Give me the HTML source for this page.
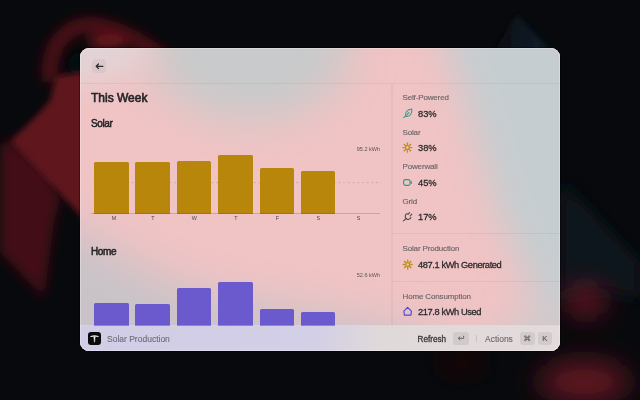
<!DOCTYPE html>
<html><head><meta charset="utf-8">
<style>
*{margin:0;padding:0;box-sizing:border-box}
html,body{width:640px;height:400px;overflow:hidden;background:#06080b;font-family:"Liberation Sans",sans-serif}
#desk{position:absolute;left:0;top:0;width:640px;height:400px}
#win{position:absolute;left:80px;top:48px;width:480px;height:303px;border-radius:9px;overflow:hidden;will-change:transform;
 background:#e9c9ca;box-shadow:0 0 0 1px rgba(0,0,0,0.35)}
#winb{position:absolute;left:80px;top:48px;width:480px;height:303px;border-radius:9px;box-shadow:inset 0 0 0 1px rgba(255,255,255,0.28);pointer-events:none}
#bg{position:absolute;left:0;top:0;width:480px;height:304px}
.abs{position:absolute}
.t{position:absolute;white-space:nowrap;line-height:1}
.hdiv{position:absolute;height:1px;background:rgba(0,0,0,0.05)}
.bar{position:absolute;border-radius:1.5px 1.5px 0 0}
.sol{background:#b8860b}
.home{background:#6a5acd}
.lbl{font-size:8px;color:#686365;letter-spacing:-0.15px;-webkit-text-stroke:0.12px #686365}
.val{font-size:9.3px;color:#2b2a2c;font-weight:normal;-webkit-text-stroke:0.28px #2b2a2c}
.ax{font-size:5.4px;color:#4a4749}
.kw{font-size:5.5px;color:#555}
.key{position:absolute;height:13px;border-radius:3px;background:rgba(0,0,0,0.08);color:#6e6a70;font-size:8px;text-align:center;line-height:13px}
</style></head><body>
<svg id="desk" width="640" height="400" viewBox="0 0 640 400">
 <defs>
  <filter id="b1" x="-50%" y="-50%" width="200%" height="200%"><feGaussianBlur stdDeviation="6"/></filter>
  <filter id="b2" x="-50%" y="-50%" width="200%" height="200%"><feGaussianBlur stdDeviation="14"/></filter>
  <filter id="b3" x="-50%" y="-50%" width="200%" height="200%"><feGaussianBlur stdDeviation="3"/></filter>
  <filter id="b4" x="-50%" y="-50%" width="200%" height="200%"><feGaussianBlur stdDeviation="9"/></filter>
 </defs>
 <rect width="640" height="400" fill="#07090c"/>
 <g filter="url(#b1)">
  <path d="M50 82C47 42 70 20 100 26C125 31 145 44 165 60" stroke="#4c0e16" stroke-width="16" fill="none"/>
  <ellipse cx="108" cy="42" rx="20" ry="8" fill="#64141e"/>
 </g>
 <g filter="url(#b3)">
  <ellipse cx="82" cy="64" rx="14" ry="12" fill="#07090c" opacity="0.85"/>
 </g>
 <g filter="url(#b1)">
  <polygon points="0,145 12,140 50,175 60,200 54,222 44,298 0,252" fill="#420d15"/>
 </g>
 <g filter="url(#b3)">
  <polygon points="56,76 95,70 95,232 80,215 10,141 26,126 40,112 50,100" fill="#5e121c"/>
 </g>
 <g filter="url(#b4)">
  <polygon points="560,178 640,262 640,300 600,290 560,300" fill="#0a151d"/>
 </g>
 <linearGradient id="navg" x1="0" y1="0" x2="1" y2="0"><stop offset="0" stop-color="#07090c"/><stop offset="0.5" stop-color="#0c1822"/><stop offset="1" stop-color="#0e1c28"/></linearGradient>
 <polygon points="495,50 517,14 550,50" fill="url(#navg)" filter="url(#b3)"/>
 <g filter="url(#b2)">
  <ellipse cx="585" cy="301" rx="22" ry="15" fill="#701626"/>
  <ellipse cx="584" cy="382" rx="46" ry="22" fill="#601422"/>
  <ellipse cx="462" cy="362" rx="24" ry="10" fill="#22080d"/>
 </g>
</svg>
<div id="win">
 <svg id="bg" width="480" height="304">
  <defs>
   <filter id="wb" x="-100%" y="-100%" width="300%" height="300%"><feGaussianBlur stdDeviation="22"/></filter>
   <filter id="wb3" x="-100%" y="-100%" width="300%" height="300%"><feGaussianBlur stdDeviation="18"/></filter>
   <filter id="wb2" x="-100%" y="-100%" width="300%" height="300%"><feGaussianBlur stdDeviation="15"/></filter>
  </defs>
  <rect width="480" height="304" fill="#f0c3c4"/>
  <g filter="url(#wb)">
   <ellipse cx="170" cy="0" rx="100" ry="72" fill="#c8cacb"/>
   <polygon points="-60,160 10,188 80,228 130,246 200,258 280,272 360,292 430,315 450,360 -60,360" fill="#c9c3c8"/>
   <polygon points="430,270 540,225 540,360 415,360" fill="#cecacc"/>
  </g>
  <g filter="url(#wb3)">
   <polygon points="350,-60 560,-60 560,320 456,252 416,160 380,36 365,0" fill="#c6cdd0"/>
  </g>
  <g filter="url(#wb2)">
   <ellipse cx="0" cy="0" rx="70" ry="35" fill="#e2d3d6"/>
  </g>
 </svg>
 <!-- header -->
 <div class="abs" style="left:11.5px;top:10.5px;width:14.5px;height:14.5px;border-radius:4px;background:rgba(90,80,90,0.07)"></div>
 <svg class="abs" style="left:11.5px;top:10.5px" width="15" height="15" viewBox="0 0 15 15">
  <path d="M4.4 7.3H10.9M4.2 7.3L6.5 5.0M4.2 7.3L6.5 9.6" stroke="#2b2a2c" stroke-width="1.25" fill="none" stroke-linecap="round" stroke-linejoin="round"/>
 </svg>
 <div class="hdiv" style="left:0;top:35px;width:480px"></div>
 <!-- vertical divider -->
 <div class="abs" style="left:311.2px;top:36px;width:1.4px;height:242px;background:rgba(0,0,0,0.035)"></div>
 <!-- left content -->
 <div class="t" style="left:11px;top:44px;font-size:12px;color:#252426;-webkit-text-stroke:0.6px #252426">This Week</div>
 <div class="t" style="left:11px;top:71px;font-size:10px;letter-spacing:-0.4px;color:#252426;-webkit-text-stroke:0.5px #252426">Solar</div>
 <!-- solar chart -->
 <div class="t kw" style="left:260px;top:98.5px;width:40px;text-align:right">95.2 kWh</div>
 <svg class="abs" style="left:0;top:130px" width="312" height="10"><line x1="14" y1="4.65" x2="301" y2="4.65" stroke="rgba(80,60,70,0.18)" stroke-width="1" stroke-dasharray="2 2.7"/></svg>
 <div class="bar sol" style="left:14px;top:114px;width:34.5px;height:51.5px"></div>
 <div class="bar sol" style="left:55px;top:113.75px;width:34.5px;height:51.75px"></div>
 <div class="bar sol" style="left:96.75px;top:113px;width:34.5px;height:52.5px"></div>
 <div class="bar sol" style="left:138px;top:106.5px;width:34.5px;height:59px"></div>
 <div class="bar sol" style="left:179.5px;top:119.75px;width:34.5px;height:45.75px"></div>
 <div class="bar sol" style="left:220.75px;top:123.25px;width:34.5px;height:42.25px"></div>
 <div class="abs" style="left:11px;top:165px;width:289px;height:1px;background:rgba(60,40,50,0.2)"></div>
 <div class="t ax" style="left:29px;top:168px;width:10px;text-align:center">M</div>
 <div class="t ax" style="left:67.8px;top:168px;width:10px;text-align:center">T</div>
 <div class="t ax" style="left:109.25px;top:168px;width:10px;text-align:center">W</div>
 <div class="t ax" style="left:150.9px;top:168px;width:10px;text-align:center">T</div>
 <div class="t ax" style="left:192.5px;top:168px;width:10px;text-align:center">F</div>
 <div class="t ax" style="left:233.3px;top:168px;width:10px;text-align:center">S</div>
 <div class="t ax" style="left:273.5px;top:168px;width:10px;text-align:center">S</div>
 <div class="t" style="left:11px;top:198.5px;font-size:10px;letter-spacing:-0.4px;color:#252426;-webkit-text-stroke:0.5px #252426">Home</div>
 <div class="t kw" style="left:260px;top:225px;width:40px;text-align:right">52.6 kWh</div>
 <div class="bar home" style="left:14px;top:255.25px;width:34.5px;height:30px"></div>
 <div class="bar home" style="left:55px;top:256.25px;width:34.5px;height:30px"></div>
 <div class="bar home" style="left:96.75px;top:240.25px;width:34.5px;height:40px"></div>
 <div class="bar home" style="left:138px;top:233.75px;width:34.5px;height:50px"></div>
 <div class="bar home" style="left:179.5px;top:261.25px;width:34.5px;height:30px"></div>
 <div class="bar home" style="left:220.75px;top:264px;width:34.5px;height:30px"></div>
 <!-- right metadata -->
 <div class="t lbl" style="left:322.5px;top:46px">Self-Powered</div>
 <div class="t val" style="left:338px;top:61.5px">83%</div>
 <div class="t lbl" style="left:322.5px;top:80.5px">Solar</div>
 <div class="t val" style="left:338px;top:95.5px">38%</div>
 <div class="t lbl" style="left:322.5px;top:115px">Powerwall</div>
 <div class="t val" style="left:338px;top:130.5px">45%</div>
 <div class="t lbl" style="left:322.5px;top:149.5px">Grid</div>
 <div class="t val" style="left:338px;top:165.0px">17%</div>
 <div class="hdiv" style="left:312px;top:185px;width:168px"></div>
 <div class="t lbl" style="left:322.5px;top:197px">Solar Production</div>
 <div class="t val" style="left:338px;top:212.5px;letter-spacing:-0.4px">487.1 kWh Generated</div>
 <div class="abs" style="left:312px;top:232.5px;width:168px;height:1px;background:repeating-linear-gradient(90deg,rgba(0,0,0,0.07) 0 1.5px,transparent 1.5px 3px)"></div>
 <div class="t lbl" style="left:322.5px;top:245px">Home Consumption</div>
 <div class="t val" style="left:338px;top:260.0px;letter-spacing:-0.4px">217.8 kWh Used</div>
 <!-- icons -->
 <svg class="abs" style="left:322px;top:59px" width="11" height="11" viewBox="0 0 11 11">
  <g stroke="#2f9f84" stroke-width="1.05" fill="none" stroke-linecap="round" stroke-linejoin="round">
   <path d="M3.9 9.3C2.7 6.6 4.6 2.3 9.8 2C10.3 6.3 8.1 9.9 3.9 9.3Z"/>
   <path d="M4.1 8.6L1.6 10.7M5.2 7.4L6.9 5.6"/>
  </g>
 </svg>
 <svg class="abs" style="left:322px;top:94px" width="11" height="11" viewBox="0 0 11 11">
  <g stroke="#bd8a12" stroke-linecap="round" fill="none">
   <circle cx="5.4" cy="5.6" r="1.95" stroke-width="1.25"/>
   <path d="M8.70 5.60L9.80 5.60M7.73 7.93L8.51 8.71M5.40 8.90L5.40 10.00M3.07 7.93L2.29 8.71M2.10 5.60L1.00 5.60M3.07 3.27L2.29 2.49M5.40 2.30L5.40 1.20M7.73 3.27L8.51 2.49" stroke-width="1.45"/>
  </g>
 </svg>
 <svg class="abs" style="left:322px;top:129px" width="11" height="11" viewBox="0 0 11 11">
  <rect x="1.6" y="2.6" width="6.5" height="5.8" rx="1.8" stroke="#2f9f84" stroke-width="1.2" fill="none"/>
  <path d="M9.3 4.5V6.5" stroke="#2f9f84" stroke-width="1.1" stroke-linecap="round"/>
 </svg>
 <svg class="abs" style="left:322px;top:163px" width="11" height="11" viewBox="0 0 11 11">
  <g stroke="#4b4749" stroke-width="1.1" fill="none" stroke-linecap="round">
   <path d="M5.17 2.58A3 3 0 1 0 9.02 6.43"/>
   <path d="M6 3.4L7.6 1.6M8.2 5L9.8 3.2M4.2 7.6L1.4 9.9"/>
  </g>
 </svg>
 <svg class="abs" style="left:322px;top:211px" width="11" height="11" viewBox="0 0 11 11">
  <g stroke="#bd8a12" stroke-linecap="round" fill="none">
   <circle cx="5.7" cy="5.5" r="1.95" stroke-width="1.25"/>
   <path d="M9.00 5.50L10.10 5.50M8.03 7.83L8.81 8.61M5.70 8.80L5.70 9.90M3.37 7.83L2.59 8.61M2.40 5.50L1.30 5.50M3.37 3.17L2.59 2.39M5.70 2.20L5.70 1.10M8.03 3.17L8.81 2.39" stroke-width="1.45"/>
  </g>
 </svg>
 <svg class="abs" style="left:322px;top:256px" width="13" height="13" viewBox="0 0 13 13">
  <path d="M5.6 3.3L1.9 7.2L2.4 11.2H8.9L9.4 7.2Z" stroke="#5548d6" stroke-width="1.2" fill="none" stroke-linejoin="round"/>
 </svg>
 <!-- footer -->
 <div class="abs" style="left:0;top:277.5px;width:480px;height:26px;background:linear-gradient(90deg,#d1cde6 0px,#d3cfe6 235px,#e0d9da 300px,#e3dadb 480px)"></div>
 <div class="abs" style="left:0;top:277px;width:480px;height:1px;background:rgba(255,255,255,0.25)"></div>
 <div class="abs" style="left:7.5px;top:283.75px;width:13px;height:13px;border-radius:3px;background:#0b0b0c"></div>
 <svg class="abs" style="left:7.5px;top:283.75px" width="13" height="13" viewBox="0 0 13 13">
  <path d="M3 4.5Q6.5 3.1 10 4.5" stroke="#eeeeee" stroke-width="1.3" fill="none" stroke-linecap="round"/>
  <path d="M5.8 4.6L6.5 10.2L7.2 4.6Z" fill="#eeeeee" stroke="#eeeeee" stroke-width="0.6" stroke-linejoin="round"/>
 </svg>
 <div class="t" style="left:27px;top:286.7px;font-size:8.5px;color:#716b75;-webkit-text-stroke:0.1px #716b75">Solar Production</div>
 <div class="t" style="left:337.5px;top:287.6px;font-size:8.2px;color:#3a3739;letter-spacing:0px;-webkit-text-stroke:0.3px #3a3739">Refresh</div>
 <div class="abs" style="left:373px;top:283.8px;width:16px;height:13px;border-radius:3px;background:rgba(60,50,60,0.09)"></div>
 <svg class="abs" style="left:373px;top:283.8px" width="16" height="13" viewBox="0 0 16 13">
  <path d="M10.6 4.2V6.3H5.4M6.9 4.9L5.3 6.3L6.9 7.7" stroke="#6a656b" stroke-width="1" fill="none" stroke-linecap="round" stroke-linejoin="round"/>
 </svg>
 <div class="abs" style="left:396.3px;top:287.2px;width:1px;height:6.6px;background:rgba(0,0,0,0.1)"></div>
 <div class="t" style="left:405px;top:286.5px;font-size:8.5px;color:#6d686e;-webkit-text-stroke:0.1px #6d686e">Actions</div>
 <div class="abs" style="left:440.3px;top:284px;width:14.6px;height:13px;border-radius:3px;background:rgba(60,50,60,0.09)"></div>
 <svg class="abs" style="left:440.3px;top:284px" width="14.4" height="12.4" viewBox="0 0 14.4 12.4">
  <g stroke="#5e595f" stroke-width="1" fill="none" transform="translate(7.2 6.3) scale(0.8) translate(-7.2 -6.3)">
   <path d="M5.8 5.1H8.6V7.5H5.8Z"/>
   <path d="M5.8 5.1H4.8A1 1 0 1 1 5.8 4.1V5.1M8.6 5.1V4.1A1 1 0 1 1 9.6 5.1H8.6M8.6 7.5H9.6A1 1 0 1 1 8.6 8.5V7.5M5.8 7.5V8.5A1 1 0 1 1 4.8 7.5H5.8"/>
  </g>
 </svg>
 <div class="abs" style="left:457.6px;top:284px;width:14.4px;height:13px;border-radius:3px;background:rgba(60,50,60,0.09)"></div>
 <div class="t" style="left:457.8px;top:286.8px;width:14.2px;text-align:center;font-size:7.6px;color:#5e595f;-webkit-text-stroke:0.15px #5e595f">K</div>
</div>
<div id="winb"></div>
</body></html>
